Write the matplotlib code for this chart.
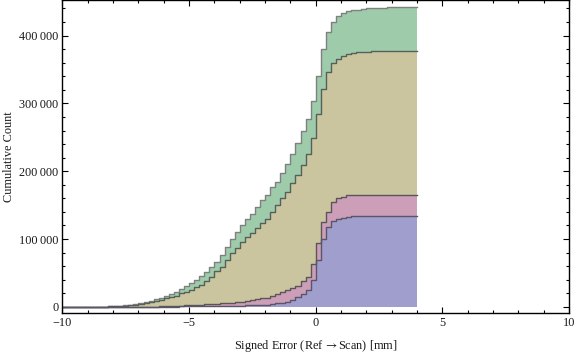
import numpy as np
import matplotlib
matplotlib.use("Agg")
import matplotlib.pyplot as plt
from matplotlib.ticker import FixedLocator, MultipleLocator, FuncFormatter

plt.rcParams['font.family'] = ['Liberation Serif', 'DejaVu Serif']
plt.rcParams['mathtext.fontset'] = 'stix'

# bins of width 0.2 from -10 to 4 (70 bins); cumulative counts per bin
bin_start = -10.0
bin_width = 0.2

green = [0, 0, 0, 0, 0, 0, 0,
         300, 400, 700, 1000, 1500, 2200, 3000, 4200, 5500, 7000,
         8800, 11000, 13500, 16000, 19000, 22500, 26000, 30000, 35000, 40000,
         45000, 51000, 58800, 66600, 76500, 87800, 99600, 110700, 120100, 129400,
         136300, 146600, 157400, 164700, 176000, 184000, 198000, 211300, 226000, 242200,
         258800, 277500, 303000, 340700, 380400, 405400, 420100, 428400, 433300, 436300,
         437500, 438200, 439700, 440500, 441000, 441200, 441400, 442600, 442600, 442600,
         442700, 442700, 442800]

olive = [0, 0, 0, 0, 0, 0, 0,
         200, 300, 500, 800, 1100, 1500, 2500, 3400, 4400, 5400,
         6900, 8300, 10300, 12300, 14200, 16600, 20000, 22500, 25000, 29000,
         32400, 38000, 44600, 53000, 58800, 69000, 79000, 87000, 95000, 102500,
         108400, 115700, 123000, 130000, 140000, 150000, 160000, 169600, 182000, 195000,
         209800, 226000, 249600, 284800, 321600, 346600, 359300, 365700, 370600, 373000,
         374500, 375200, 376000, 376500, 377000, 377500, 377500, 377600, 377600, 377700,
         377700, 377800, 377800]

pink = [0] * 19 + [
        500, 800, 1000, 1300, 1600, 2000, 2400, 2800, 3200, 3600,
        4000, 4500, 5000, 5500, 6200, 6900, 7800, 8800, 10000, 11300,
        12500, 13700, 16000, 19000, 22500, 25000, 27500, 31000, 38200, 44600,
        62800, 94600, 125400, 140000, 154900, 159800, 162700, 164200, 164600, 164800,
        165000, 165000, 165100, 165100, 165200, 165200, 165200, 165300, 165300, 165300,
        165300]

blue = [0] * 20 + [
        200, 300, 400, 500, 600, 700, 800, 900, 1000, 1100,
        1200, 1300, 1400, 1500, 1600, 1800, 2000, 2300, 2600, 2900,
        3300, 4400, 5000, 6000, 7800, 10300, 14200, 18600, 25000, 39700,
        69000, 99600, 118000, 126000, 129800, 131500, 132800, 133300, 133500, 133600,
        133700, 133700, 133800, 133800, 133800, 133900, 133900, 133900, 133900, 133900]

series = [
    (green, "#9ecbaa", "#808080"),
    (olive, "#cbc59f", "#55605a"),
    (pink, "#cc9eb8", "#5a5558"),
    (blue, "#a09ecc", "#5a566a"),
]

x_label = "Signed Error (Ref$\\,\\rightarrow$Scan) [mm]"
y_label = "Cumulative Count"

fig = plt.figure(figsize=(5.76, 3.53), dpi=100)
ax = fig.add_axes([0.1085, 0.1133, 0.8793, 0.8853])

n = len(green)
edges = bin_start + bin_width * np.arange(n + 1)

for vals, fc, ec in series:
    v = np.append(np.asarray(vals, float), vals[-1])
    ax.fill_between(edges, 0, v, step='post', facecolor=fc, edgecolor='none', linewidth=0)
    ax.step(edges, v, where='post', color=ec, linewidth=1.0)

ax.set_xlim(-10, 10)
ax.set_ylim(-9100, 451800)

ax.xaxis.set_major_locator(FixedLocator([-10, -5, 0, 5, 10]))
ax.xaxis.set_minor_locator(MultipleLocator(1))
ax.yaxis.set_major_locator(FixedLocator([0, 100000, 200000, 300000, 400000]))
ax.yaxis.set_minor_locator(MultipleLocator(20000))

def yfmt(v, pos):
    v = int(round(v))
    if v == 0:
        return "0"
    return f"{v:,}".replace(",", "\u2009")

def xfmt(v, pos):
    v = int(round(v))
    return f"\u2212{abs(v)}" if v < 0 else f"{v}"

ax.yaxis.set_major_formatter(FuncFormatter(yfmt))
ax.xaxis.set_major_formatter(FuncFormatter(xfmt))

ax.tick_params(which='both', direction='in', top=True, right=True,
               labelsize=8.8, colors='black', labelcolor='#1a1a1a', width=0.8)
ax.tick_params(which='major', length=4.5, pad=3)
ax.tick_params(which='minor', length=2.5)

for sp in ax.spines.values():
    sp.set_linewidth(1.0)
    sp.set_color('black')

ax.set_xlabel(x_label, fontsize=8.8, color='#1a1a1a', labelpad=6)
ax.set_ylabel(y_label, fontsize=8.8, color='#1a1a1a', labelpad=3)

fig.savefig("out.png", dpi=100)
